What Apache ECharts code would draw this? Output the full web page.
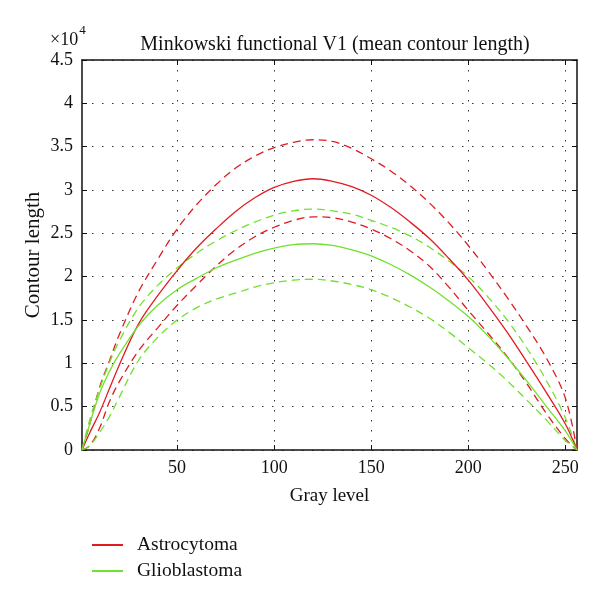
<!DOCTYPE html>
<html>
<head>
<meta charset="utf-8">
<script src="https://cdn.jsdelivr.net/npm/echarts@6/dist/echarts.min.js"></script>
<style>html,body{margin:0;padding:0;background:#fff;}#c{width:600px;height:604px;}</style>
</head>
<body>
<div id="c"></div>
<script>
// Gray levels (x) and contour lengths (in units of 1e4)
const grayLevels = [1, 5, 10, 15, 20, 30, 40, 50, 60, 70, 80, 90, 100, 110, 120, 130, 140, 150, 160, 170, 180, 190, 200, 210, 220, 230, 240, 250, 256];
const astroMean  = [0, 0.2, 0.43, 0.7, 0.97, 1.45, 1.78, 2.07, 2.33, 2.55, 2.75, 2.91, 3.03, 3.1, 3.13, 3.1, 3.04, 2.94, 2.8, 2.63, 2.44, 2.21, 1.96, 1.67, 1.36, 1.02, 0.67, 0.3, 0];
const astroUpper = [0, 0.3, 0.72, 1.02, 1.32, 1.82, 2.2, 2.55, 2.83, 3.06, 3.25, 3.39, 3.49, 3.55, 3.58, 3.56, 3.48, 3.36, 3.22, 3.05, 2.85, 2.62, 2.36, 2.07, 1.76, 1.43, 1.07, 0.6, 0];
const astroLower = [0, 0.05, 0.25, 0.55, 0.78, 1.14, 1.41, 1.67, 1.9, 2.12, 2.31, 2.46, 2.57, 2.65, 2.69, 2.68, 2.63, 2.55, 2.44, 2.3, 2.12, 1.88, 1.61, 1.35, 1.08, 0.77, 0.43, 0.13, 0];
const glioMean   = [0, 0.3, 0.65, 0.9, 1.1, 1.43, 1.67, 1.85, 1.98, 2.1, 2.19, 2.27, 2.33, 2.37, 2.38, 2.36, 2.31, 2.24, 2.14, 2.02, 1.88, 1.72, 1.54, 1.32, 1.07, 0.8, 0.51, 0.22, 0];
const glioUpper  = [0, 0.35, 0.7, 1.0, 1.25, 1.64, 1.9, 2.1, 2.27, 2.41, 2.53, 2.63, 2.71, 2.76, 2.78, 2.76, 2.72, 2.65, 2.57, 2.47, 2.34, 2.18, 2.0, 1.77, 1.5, 1.18, 0.81, 0.37, 0];
const glioLower  = [0, 0.05, 0.2, 0.38, 0.6, 1.03, 1.3, 1.5, 1.64, 1.74, 1.81, 1.88, 1.93, 1.96, 1.97, 1.95, 1.91, 1.85, 1.76, 1.65, 1.52, 1.36, 1.18, 1.0, 0.8, 0.58, 0.35, 0.11, 0];
const xTicks = [50, 100, 150, 200, 250];

const RED = '#e11b22';
const GREEN = '#72e02e';
const FONT = 'Liberation Serif';

function pairs(ys) { return grayLevels.map((x, i) => [x, ys[i]]); }
function mk(name, ys, color, dashed) {
  return {
    name: name, type: 'line', data: pairs(ys), symbol: 'none', smooth: 0.35,
    xAxisIndex: 0, yAxisIndex: 0,
    lineStyle: { color: color, width: 1.3, type: dashed ? [8, 5] : 'solid' },
    itemStyle: { color: color }, z: dashed ? 3 : 4
  };
}

const chart = echarts.init(document.getElementById('c'));
const gridLine = { show: true, lineStyle: { color: '#333', width: 1, type: [1.5, 8.5] } };
chart.setOption({
  animation: false,
  title: {
    text: 'Minkowski functional V1 (mean contour length)',
    left: 330, textAlign: 'center', top: 30,
    textStyle: { fontFamily: FONT, fontSize: 20, fontWeight: 'normal', color: '#111' }
  },
  grid: { left: 82, right: 23, top: 60, bottom: 154 },
  legend: {
    orient: 'vertical', left: 87, top: 530, itemWidth: 31, itemHeight: 2, itemGap: 6,
    icon: 'rect',
    data: ['Astrocytoma', 'Glioblastoma'],
    textStyle: { fontFamily: FONT, fontSize: 19.5, color: '#111', padding: [0, 0, 0, 9] }
  },
  xAxis: [{
    type: 'value', min: 1, max: 256,
    name: 'Gray level', nameLocation: 'middle', nameGap: 37, nameMoveOverlap: false,
    nameTextStyle: { fontFamily: FONT, fontSize: 19, color: '#111' },
    axisLine: { show: true, onZero: false, lineStyle: { color: '#111', width: 1.5 } },
    axisTick: { show: true, inside: true, length: 5, customValues: xTicks, lineStyle: { color: '#111' } },
    axisLabel: { customValues: xTicks, fontFamily: FONT, fontSize: 18, color: '#111', margin: 9 },
    splitLine: gridLine
  }, {
    type: 'value', min: 1, max: 256, position: 'top',
    axisLine: { show: true, onZero: false, lineStyle: { color: '#111', width: 1.5 } },
    axisTick: { show: true, inside: true, length: 5, customValues: xTicks, lineStyle: { color: '#111' } },
    axisLabel: { show: false }, splitLine: { show: false }
  }],
  yAxis: [{
    type: 'value', min: 0, max: 4.5, interval: 0.5,
    name: 'Contour length', nameLocation: 'middle', nameGap: 38, nameRotate: 90, nameMoveOverlap: false,
    nameTextStyle: { fontFamily: FONT, fontSize: 21, color: '#111' },
    axisLine: { show: true, onZero: false, lineStyle: { color: '#111', width: 1.5 } },
    axisTick: { show: true, inside: true, length: 5, lineStyle: { color: '#111' } },
    axisLabel: { fontFamily: FONT, fontSize: 18, color: '#111', margin: 9 },
    splitLine: gridLine
  }, {
    type: 'value', min: 0, max: 4.5, interval: 0.5, position: 'right',
    axisLine: { show: true, onZero: false, lineStyle: { color: '#111', width: 1.5 } },
    axisTick: { show: true, inside: true, length: 5, lineStyle: { color: '#111' } },
    axisLabel: { show: false }, splitLine: { show: false }
  }],
  graphic: [{
    type: 'text', left: 50, top: 24,
    style: {
      text: '{a|×10}{b|4}', fill: '#111',
      rich: {
        a: { fontFamily: FONT, fontSize: 18, color: '#111', padding: [7, 0, 0, 0] },
        b: { fontFamily: FONT, fontSize: 13, color: '#111', verticalAlign: 'top', padding: [0, 0, 8, 1] }
      }
    }
  }],
  series: [
    mk('Astrocytoma', astroMean, RED, false),
    mk('Astrocytoma upper', astroUpper, RED, true),
    mk('Astrocytoma lower', astroLower, RED, true),
    mk('Glioblastoma', glioMean, GREEN, false),
    mk('Glioblastoma upper', glioUpper, GREEN, true),
    mk('Glioblastoma lower', glioLower, GREEN, true)
  ]
});
</script>
</body>
</html>
